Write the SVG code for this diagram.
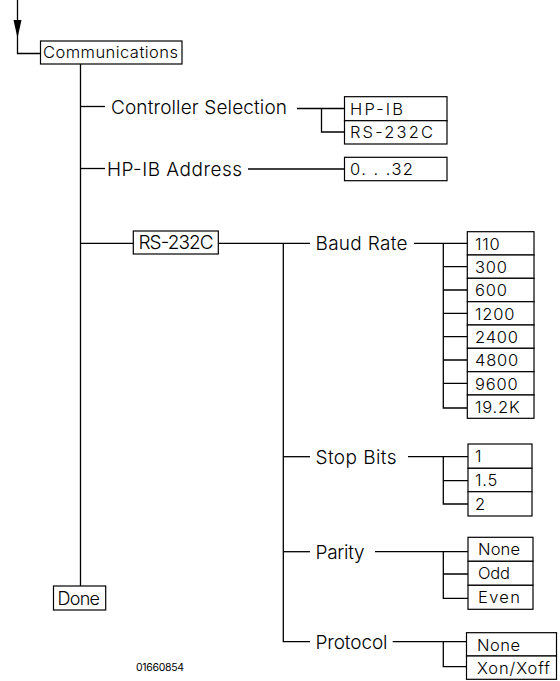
<svg xmlns="http://www.w3.org/2000/svg" width="560" height="681" viewBox="0 0 560 681">
<style>
  .bg{fill:#ffffff}
  .box{fill:#ffffff;stroke:#000;stroke-width:1.2}
  .ln{fill:none;stroke:#000;stroke-width:1.3}
  text{font-family:Inter,"DejaVu Sans","Liberation Sans",sans-serif;font-weight:300;fill:#000}
  .s{font-size:16.5px}
  .l{font-size:19px}
  .m{font-size:18px}
  .num{font-size:16.5px;letter-spacing:0.8px}
  .tiny{font-size:10.5px;font-weight:400}
</style>
<rect class="bg" x="0" y="0" width="560" height="681"/>

<g id="connectors">
  <path class="ln" d="M17.5,0 V53.5 H40.5"/>
  <polygon points="13.5,20 21.5,20 17.5,38" fill="#000"/>
  <path class="ln" d="M80.5,64 V586"/>
  <path class="ln" d="M80.5,106.5 H105"/>
  <path class="ln" d="M80.5,168.5 H105"/>
  <path class="ln" d="M80.5,243.3 H133.3"/>
  <path class="ln" d="M297,108.5 H344.5"/>
  <path class="ln" d="M321.5,108.5 V132 H344.5"/>
  <path class="ln" d="M248,169 H344.5"/>
  <path class="ln" d="M218.3,243.3 H310"/>
  <path class="ln" d="M283.3,243.3 V641.7 H310"/>
  <path class="ln" d="M283.3,456.7 H310"/>
  <path class="ln" d="M283.3,551.7 H310"/>
  <path class="ln" d="M414,243.3 H467.3"/>
  <path class="ln" d="M443.3,243.3 V408 H467.3"/>
  <path class="ln" d="M443.3,266.7 H467.3 M443.3,290 H467.3 M443.3,313.3 H467.3 M443.3,336.7 H467.3 M443.3,360 H467.3 M443.3,383.3 H467.3"/>
  <path class="ln" d="M408,456.7 H468"/>
  <path class="ln" d="M443.3,456.7 V504 H468 M443.3,480.7 H468"/>
  <path class="ln" d="M375,551.7 H468"/>
  <path class="ln" d="M443.3,551.7 V598.3 H468 M443.3,574 H468"/>
  <path class="ln" d="M392.7,641.7 H466.5"/>
  <path class="ln" d="M443.3,641.7 V666.7 H466.5"/>
</g>

<g id="communications">
  <rect class="box" x="40.5" y="41" width="141.5" height="23"/>
  <text class="s" x="43" y="58" textLength="135" lengthAdjust="spacing">Communications</text>
</g>

<g id="controller-selection">
  <text class="l" x="111" y="114" textLength="176" lengthAdjust="spacing">Controller Selection</text>
</g>
<g id="controller-options">
  <rect class="box" x="344.5" y="96.7" width="102.5" height="24"/>
  <rect class="box" x="344.5" y="120.7" width="102.5" height="23.3"/>
  <text class="s" x="350" y="114.5" textLength="53" lengthAdjust="spacing">HP-IB</text>
  <text class="s" x="350" y="138" textLength="83" lengthAdjust="spacing">RS-232C</text>
</g>

<g id="hpib-address">
  <text class="l" x="107" y="175.7" textLength="135" lengthAdjust="spacing">HP-IB Address</text>
</g>
<g id="address-range">
  <rect class="box" x="344.5" y="157.3" width="102.5" height="23.4"/>
  <text class="s" x="350" y="175.3" textLength="63" lengthAdjust="spacing">0. . .32</text>
</g>

<g id="rs232c">
  <rect class="box" x="133.3" y="231" width="85" height="23"/>
  <text class="l" x="138.5" y="249.3" textLength="75" lengthAdjust="spacing">RS-232C</text>
</g>

<g id="baud-rate">
  <text class="l" x="315.5" y="250.3" textLength="92" lengthAdjust="spacing">Baud Rate</text>
</g>
<g id="baud-options">
  <rect class="box" x="467.3" y="231.7" width="66.7" height="23.3"/>
  <rect class="box" x="467.3" y="255" width="66.7" height="23.3"/>
  <rect class="box" x="467.3" y="278.3" width="66.7" height="23.3"/>
  <rect class="box" x="467.3" y="301.7" width="66.7" height="23.3"/>
  <rect class="box" x="467.3" y="325" width="66.7" height="23.3"/>
  <rect class="box" x="467.3" y="348.3" width="66.7" height="23.3"/>
  <rect class="box" x="467.3" y="371.7" width="66.7" height="23.3"/>
  <rect class="box" x="467.3" y="395" width="66.7" height="23.3"/>
  <text class="num" x="475" y="249.5">110</text>
  <text class="num" x="475" y="272.8">300</text>
  <text class="num" x="475" y="296.1">600</text>
  <text class="num" x="475" y="319.5">1200</text>
  <text class="num" x="475" y="342.8">2400</text>
  <text class="num" x="475" y="366.1">4800</text>
  <text class="num" x="475" y="389.5">9600</text>
  <text class="num" x="475" y="412.8">19.2K</text>
</g>

<g id="stop-bits">
  <text class="l" x="315.5" y="463.7" textLength="81" lengthAdjust="spacing">Stop Bits</text>
</g>
<g id="stop-options">
  <rect class="box" x="468" y="444" width="64" height="24.3"/>
  <rect class="box" x="468" y="468.3" width="64" height="23.4"/>
  <rect class="box" x="468" y="491.7" width="64" height="24.3"/>
  <text class="num" x="475" y="462">1</text>
  <text class="num" x="475" y="485.8">1.5</text>
  <text class="num" x="475" y="509.5">2</text>
</g>

<g id="parity">
  <text class="l" x="315.5" y="558.7" textLength="49" lengthAdjust="spacing">Parity</text>
</g>
<g id="parity-options">
  <rect class="box" x="468" y="537.3" width="65" height="24"/>
  <rect class="box" x="468" y="561.3" width="65" height="24"/>
  <rect class="box" x="468" y="585.3" width="65" height="24"/>
  <text class="s" x="478" y="555.3" textLength="42" lengthAdjust="spacing">None</text>
  <text class="s" x="478" y="579.3" textLength="32" lengthAdjust="spacing">Odd</text>
  <text class="s" x="478" y="603.3" textLength="42" lengthAdjust="spacing">Even</text>
</g>

<g id="protocol">
  <text class="l" x="315.5" y="648.7" textLength="72" lengthAdjust="spacing">Protocol</text>
</g>
<g id="protocol-options">
  <rect class="box" x="466.5" y="632.7" width="90" height="23.3"/>
  <rect class="box" x="466.5" y="656" width="90" height="23.3"/>
  <text class="s" x="477" y="650.5" textLength="43" lengthAdjust="spacing">None</text>
  <text class="s" x="477" y="673.8" textLength="73" lengthAdjust="spacing">Xon/Xoff</text>
</g>

<g id="done">
  <rect class="box" x="53.5" y="586" width="52.2" height="24"/>
  <text class="m" x="57.5" y="605" textLength="42.5" lengthAdjust="spacing">Done</text>
</g>

<text class="tiny" x="136" y="670.5" textLength="48" lengthAdjust="spacing">01660854</text>
</svg>
